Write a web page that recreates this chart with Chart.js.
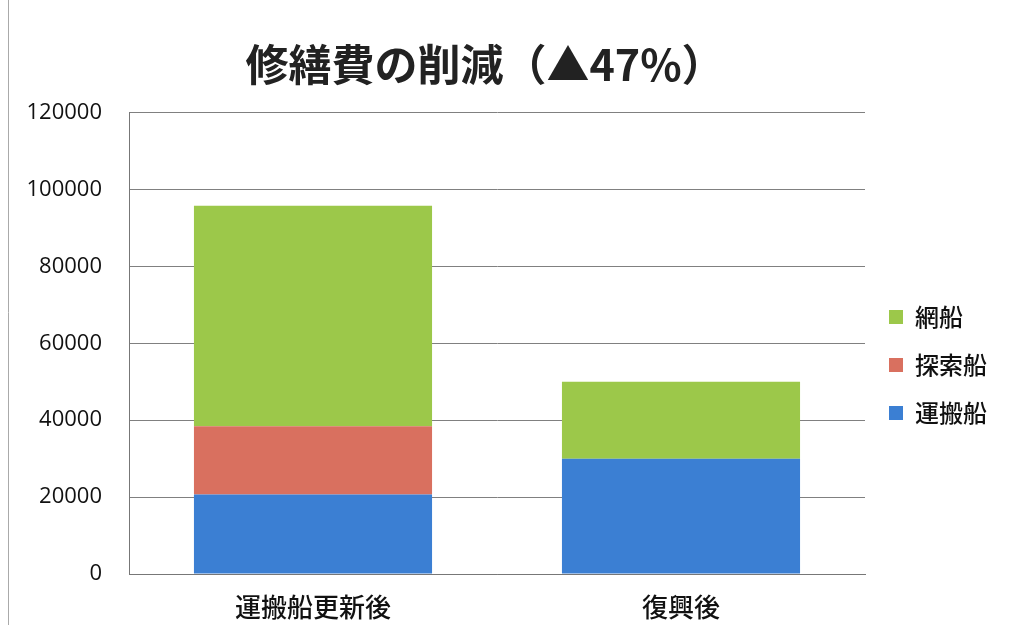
<!DOCTYPE html>
<html><head><meta charset="utf-8">
<script src="https://cdn.jsdelivr.net/npm/chart.js@4/dist/chart.umd.min.js"></script>
<style>html,body{margin:0;padding:0;background:#fff}#w{width:1010px;height:625px}</style>
</head><body><div id="w"><canvas id="c"></canvas></div>
<script>
const categories = ['運搬船更新後', '復興後'];
const seriesNames = ['運搬船', '探索船', '網船'];
const unpanValues = [20700, 30000];
const tansakuValues = [17700, 0];
const amiValues = [57400, 20000];
const yTicks = [0, 20000, 40000, 60000, 80000, 100000, 120000];
const titleText = '修繕費の削減（▲47%）';

const colors = ['#3b7fd3', '#d9705f', '#9cc84a'];
const jp = '"Noto Sans CJK JP", sans-serif';

const adjust = {
  id: 'adjust',
  afterLayout(chart) {
    const lg = chart.legend;
    const pad = lg.options.labels.padding;
    const ih = lg.options.labels.font.size;
    const top = 317 - pad - ih / 2;
    const left = 889 - pad;
    const w = lg.right - lg.left;
    lg.top = top; lg.bottom = 625;
    lg.left = left; lg.right = left + w;
    lg.height = lg.bottom - lg.top;
    const tb = chart.titleBlock;
    tb.left -= 12; tb.right -= 12;
  },
  beforeDraw(chart) {
    const ctx = chart.ctx;
    ctx.save();
    ctx.fillStyle = '#fff';
    ctx.fillRect(0, 0, chart.width, chart.height);
    ctx.strokeStyle = '#aaa';
    ctx.lineWidth = 1;
    ctx.beginPath();
    ctx.moveTo(8.5, 0); ctx.lineTo(8.5, 625);
    ctx.stroke();
    ctx.restore();
  }
};

new Chart(document.getElementById('c'), {
  type: 'bar',
  data: {
    labels: categories,
    datasets: [
      { label: seriesNames[0], data: unpanValues, backgroundColor: colors[0] },
      { label: seriesNames[1], data: tansakuValues, backgroundColor: colors[1] },
      { label: seriesNames[2], data: amiValues, backgroundColor: colors[2] }
    ]
  },
  options: {
    responsive: true,
    maintainAspectRatio: false,
    animation: false,
    datasets: { bar: { barPercentage: 0.647, categoryPercentage: 1.0 } },
    layout: { padding: { left: 24, right: 13, top: 0, bottom: 0 } },
    scales: {
      x: {
        stacked: true,
        afterFit(axis) { axis.height = 51; },
        grid: { display: false },
        border: { display: true, color: '#777' },
        ticks: { font: { family: jp, size: 26, weight: '500' }, color: '#111', padding: 10 }
      },
      y: {
        stacked: true,
        min: 0, max: 120000,
        afterFit(axis) { axis.width = 105; },
        afterBuildTicks(axis) { axis.ticks = yTicks.map(v => ({ value: v })); },
        grid: { color: '#808080', lineWidth: 1, drawTicks: false },
        border: { display: true, color: '#777' },
        ticks: {
          font: { family: '"Open Sans", sans-serif', size: 22 },
          color: '#111', padding: 27,
          callback: v => String(v)
        }
      }
    },
    plugins: {
      title: {
        display: true, text: titleText, fullSize: false,
        font: { family: jp, size: 43, weight: 'bold' }, color: '#222',
        padding: { top: 39, bottom: 22 }
      },
      legend: {
        position: 'right', align: 'start', reverse: true, fullSize: false,
        labels: {
          boxWidth: 14, boxHeight: 14, padding: 24,
          font: { family: jp, size: 24, weight: '500' }, color: '#111'
        }
      },
      tooltip: { enabled: false }
    }
  },
  plugins: [adjust]
});
</script>
</body></html>
